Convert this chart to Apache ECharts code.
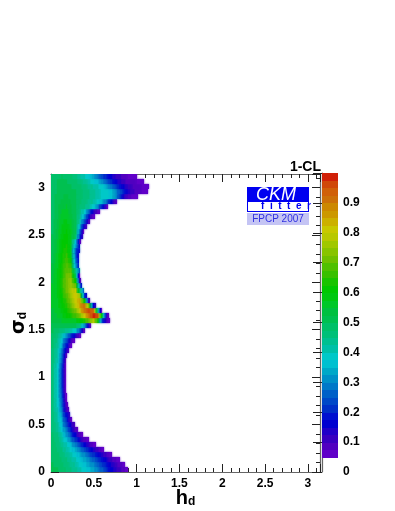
<!DOCTYPE html>
<html>
<head>
<meta charset="utf-8">
<style>
html,body{margin:0;padding:0;background:#fff}
#chart{width:395px;height:511px}
</style>
<script src="https://cdn.jsdelivr.net/npm/echarts@6/dist/echarts.min.js"></script>
</head>
<body>
<div id="chart"></div>
<script>
// bin size of the 2d histogram, both axes run 0..pi
const binSize = 3.14159 / 60
const hMax = 3.14159
const sigmaMax = 3.14159

// 1-CL in percent. rows go from sigma_d=0 upwards, every row starts at h_d=0,
// bins right of the end of the row are below 0.05 and stay white
const clRows = [
  [50,50,49,47,45,43,41,38,36,33,29,25,20,16,13,10,7],
  [50,49,48,46,44,42,39,36,33,30,26,22,18,14,11,8],
  [49,49,47,45,43,40,37,34,30,26,22,18,14,10,7],
  [49,48,46,44,41,38,34,30,26,21,17,13,9,6],
  [49,47,45,42,38,34,29,24,19,14,10,7],
  [48,47,44,40,35,29,23,17,12,7],
  [48,46,42,36,29,22,14,8],
  [48,45,40,32,24,15,8],
  [47,44,37,28,18,9],
  [47,43,35,24,12],
  [47,42,33,20,8],
  [47,41,30,15],
  [46,40,28,10],
  [46,39,26,9],
  [46,39,25,8],
  [46,38,24,7],
  [46,38,23,6],
  [46,38,22,6],
  [46,38,22,6],
  [46,38,22,6],
  [46,38,22,6],
  [46,39,23,7],
  [47,40,25,9],
  [47,41,27,11],
  [47,42,29,13],
  [48,43,33,18,7],
  [48,44,36,23,11,6],
  [49,46,40,32,22,13,7],
  [50,48,46,44,41,38,24,9],
  [52,52,52,52,51,50,46,30,10],
  [53,54,55,56,56,57,60,64,70,78,62,22,8],
  [54,55,57,60,63,67,72,80,90,98,96,50,9],
  [54,56,58,62,66,72,80,90,97,92,40,8],
  [55,57,60,64,70,78,86,92,72,15],
  [55,57,61,66,73,80,86,60,12],
  [55,58,62,68,75,82,75,22],
  [55,58,63,70,77,80,42],
  [55,58,64,71,76,70,25],
  [54,58,64,71,75,60,10],
  [54,58,63,70,73,50,7],
  [53,58,63,69,70,40],
  [53,57,63,68,66,30],
  [52,57,62,66,62,26],
  [52,56,62,65,58,24],
  [51,56,61,64,57,22],
  [51,55,60,63,57,28],
  [50,55,60,62,57,36,9],
  [50,54,59,61,57,48,18],
  [49,54,58,60,57,50,26,8],
  [49,53,58,59,56,50,34,14],
  [49,53,57,58,55,50,40,24,9],
  [49,52,56,57,54,50,44,32,16,7],
  [49,52,55,56,53,50,46,38,26,13,7],
  [49,52,54,55,53,50,47,45,43,38,30,18,8],
  [49,51,53,54,52,50,48,46,44,42,39,34,26,15,8],
  [49,51,52,53,51,50,48,47,45,43,41,39,38,36,30,20,12,8,6],
  [49,50,51,52,51,50,48,47,45,43,41,39,38,36,30,24,18,13,10,8,7,6],
  [49,50,51,51,50,49,48,46,44,42,40,38,33,28,23,18,14,11,9,8,7,6],
  [49,50,50,50,49,48,46,44,41,38,35,30,25,20,16,13,10,9,8,7,6],
  [49,49,50,49,48,46,43,40,37,33,28,23,19,15,12,10,8,7,6]
]

// right hand edge of the allowed region (1-CL=0.05) in h_d for every row
const rowEdges = [
  0.90,0.865,0.80,0.71,0.62,0.53,0.44,0.375,0.32,0.28,
  0.25,0.225,0.21,0.20,0.19,0.185,0.18,0.178,0.175,0.175,
  0.175,0.178,0.18,0.19,0.21,0.24,0.285,0.345,0.40,0.47,
  0.69,0.68,0.60,0.525,0.455,0.415,0.385,0.365,0.35,0.34,
  0.335,0.33,0.327,0.33,0.335,0.34,0.355,0.37,0.39,0.42,
  0.46,0.51,0.57,0.67,0.77,1.02,1.13,1.15,1.09,1.00
]

// colour levels from 0.05 upwards in steps of 0.025
const levelStart = 0.05
const levelStep = 0.025
const levelColors = [
  '#6000c8','#5000c0','#3800c0','#2000c8','#0000d0','#0010d0','#0030c8','#0048c8',
  '#0060c8','#0078c8','#0090c8','#00a8c8','#00c0d0','#00c8c8','#00c0a8','#00c090',
  '#00c078','#00c068','#00c050','#00c040','#00c828','#00c810','#00c800','#18c400',
  '#38c000','#50c000','#70c000','#88c400','#a0c800','#b8c800','#c8c800','#ccb000',
  '#cc9800','#cc8800','#cc7008','#d06008','#d04808','#d02008'
]

const colorOf = (v) => {
  let k = Math.floor((v - levelStart) / levelStep + 1e-6)
  return levelColors[Math.max(0, Math.min(levelColors.length - 1, k))]
}

// [h lower edge, sigma lower edge, value, h upper edge, left neighbour, right neighbour]
const cells = []
clRows.forEach((row, i) => {
  row.forEach((pct, j) => {
    const last = j === row.length - 1
    const right = last ? rowEdges[i] : (j + 1) * binSize
    const prev = j > 0 ? row[j - 1] : pct
    const next = last ? 5 : row[j + 1]
    cells.push([j * binSize, i * binSize, pct / 100, right, prev / 100, next / 100])
  })
})
const barCells = levelColors.map((c, k) => [levelStart + k * levelStep])

const renderCell = (params, api) => {
  const p0 = api.coord([api.value(0), api.value(1)])
  const p1 = api.coord([api.value(3), api.value(1) + binSize])
  const x0 = Math.round(p0[0]), x1 = Math.round(p1[0])
  const y0 = Math.round(p0[1]), y1 = Math.round(p1[1])
  const v = api.value(2)
  const vl = (api.value(4) + v) / 2
  const vr = (api.value(5) + v) / 2
  // colour runs over to the neighbouring bins, the original is a downscaled bitmap
  const stops = [0, 0.25, 0.5, 0.75, 1].map((t) => ({
    offset: t,
    color: colorOf(t < 0.5 ? vl + (v - vl) * t * 2 : v + (vr - v) * (t - 0.5) * 2)
  }))
  return {
    type: 'rect',
    shape: { x: x0, y: y1, width: x1 - x0, height: y0 - y1 },
    style: {
      fill: new echarts.graphic.LinearGradient(0, 0, 1, 0, stops),
      shadowBlur: 2,
      shadowColor: colorOf(v)
    }
  }
}

const renderBar = (params, api) => {
  const lo = api.value(0)
  const size = api.size([0, levelStep])
  const p = api.coord([0, lo + levelStep])
  return {
    type: 'rect',
    shape: { x: params.coordSys.x, y: Math.round(p[1]), width: params.coordSys.width, height: Math.ceil(size[1]) },
    style: { fill: colorOf(lo) }
  }
}

const labelFont = { color: '#000', fontFamily: 'Liberation Sans', fontWeight: 'bold', fontSize: 12 }
const lineGrey = { color: '#666', width: 1.2 }
const tick = { inside: true, length: 8, lineStyle: { color: '#222', width: 1 } }
const minor = { show: true, splitNumber: 5, length: 4, lineStyle: { color: '#222', width: 1 } }
const hideEnd = (v) => (v > 3.1 ? '' : String(v))

const valueAxis = (extra) => Object.assign({
  type: 'value',
  min: 0,
  interval: 0.5,
  axisLine: { show: true, onZero: false, lineStyle: lineGrey },
  axisTick: tick,
  minorTick: minor,
  splitLine: { show: false },
  minorSplitLine: { show: false }
}, extra)

const option = {
  backgroundColor: '#fff',
  animation: false,
  grid: [
    { left: 51, top: 174, width: 269, height: 298, outerBoundsMode: 'none' },
    { left: 322, top: 173, width: 16, height: 299, outerBoundsMode: 'none' }
  ],
  xAxis: [
    valueAxis({
      gridIndex: 0, max: hMax,
      axisLabel: Object.assign({ margin: 6, formatter: hideEnd, showMaxLabel: false }, labelFont),
      name: '{m|h}{s|d}',
      nameLocation: 'middle',
      nameMoveOverlap: false,
      nameGap: 16,
      nameTextStyle: {
        rich: {
          m: { fontFamily: 'Liberation Sans', fontWeight: 'bold', fontSize: 20, color: '#000' },
          s: { fontFamily: 'Liberation Sans', fontWeight: 'bold', fontSize: 12, color: '#000', verticalAlign: 'bottom', padding: [8, 0, 0, 0] }
        }
      }
    }),
    valueAxis({ gridIndex: 0, max: hMax, position: 'top', axisLabel: { show: false } }),
    {
      type: 'value', gridIndex: 1, min: 0, max: 1,
      axisLine: { show: false }, axisTick: { show: false }, axisLabel: { show: false }, splitLine: { show: false }
    }
  ],
  yAxis: [
    valueAxis({
      gridIndex: 0, max: sigmaMax,
      axisLabel: Object.assign({ margin: 6, formatter: hideEnd, showMaxLabel: false }, labelFont),
      name: '{m|σ}{s|d}',
      nameLocation: 'middle',
      nameMoveOverlap: false,
      nameGap: 22,
      nameRotate: 90,
      nameTextStyle: {
        rich: {
          m: { fontFamily: 'DejaVu Sans', fontWeight: 'bold', fontSize: 19, color: '#000' },
          s: { fontFamily: 'Liberation Sans', fontWeight: 'bold', fontSize: 12, color: '#000', verticalAlign: 'bottom', padding: [8, 0, 0, 0] }
        }
      }
    }),
    valueAxis({ gridIndex: 0, max: sigmaMax, position: 'right', axisLabel: { show: false } }),
    {
      type: 'value', gridIndex: 1, min: 0, max: 1, interval: 0.1, position: 'right',
      axisLine: { show: true, lineStyle: lineGrey },
      axisTick: { inside: true, length: 9, lineStyle: { color: '#222', width: 1 } },
      axisLabel: Object.assign({ margin: 5, formatter: (v) => (v >= 1 ? '' : String(v)) }, labelFont),
      splitLine: { show: false }
    }
  ],
  series: [
    {
      type: 'custom',
      xAxisIndex: 0,
      yAxisIndex: 0,
      clip: true,
      z: 1,
      renderItem: renderCell,
      encode: { x: 0, y: 1 },
      data: cells
    },
    {
      type: 'custom',
      xAxisIndex: 2,
      yAxisIndex: 2,
      renderItem: renderBar,
      encode: { y: 0 },
      data: barCells
    }
  ],
  graphic: [
    { type: 'text', z: 20, style: { x: 321, y: 167, text: '1-CL', align: 'right', verticalAlign: 'middle', fill: '#000', font: 'bold 14px "Liberation Sans"' } },
    { type: 'rect', z: 20, shape: { x: 247, y: 187, width: 62, height: 25 }, style: { fill: '#0000f0' } },
    { type: 'rect', z: 21, shape: { x: 248, y: 202, width: 60, height: 9 }, style: { fill: '#fff' } },
    { type: 'text', z: 22, style: { x: 276, y: 195, text: 'CKM', align: 'center', verticalAlign: 'middle', fill: '#fff', font: 'italic 18px "Liberation Sans"' } },
    { type: 'text', z: 22, style: { x: 286, y: 206.5, text: 'f  i  t  t  e  r', align: 'center', verticalAlign: 'middle', fill: '#0000f0', font: 'bold 10px "Liberation Sans"' } },
    { type: 'rect', z: 20, shape: { x: 247, y: 213, width: 62, height: 12 }, style: { fill: '#c4c4f4' } },
    { type: 'text', z: 22, style: { x: 278, y: 219, text: 'FPCP 2007', align: 'center', verticalAlign: 'middle', fill: '#3030e0', font: '10px "Liberation Sans"' } }
  ]
}

const myChart = echarts.init(document.getElementById('chart'), null, { renderer: 'canvas' })
myChart.setOption(option)
</script>
</body>
</html>
